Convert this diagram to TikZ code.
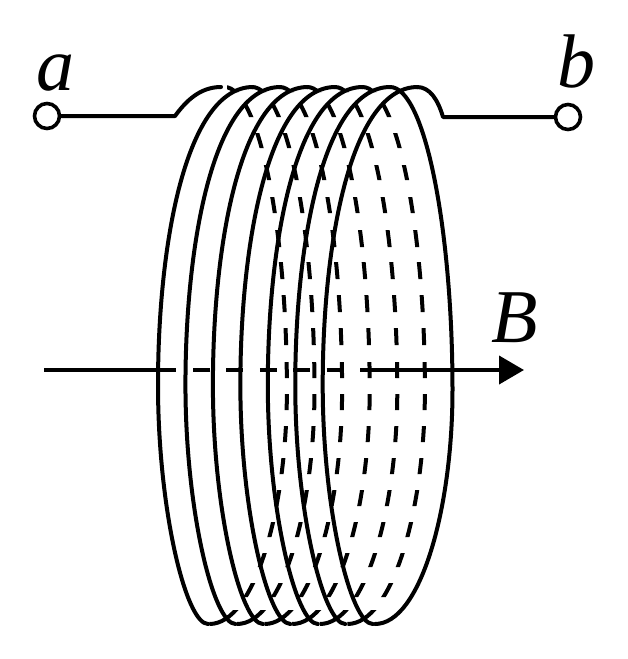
\documentclass[tikz,border=0pt]{standalone}
\usepackage{fontspec}
\setmainfont{Liberation Serif}
\usetikzlibrary{arrows.meta}
\tikzset{
  wire/.style={line width=4pt,line cap=round,line join=round},
  backwire/.style={line width=4pt,line cap=butt},
  terminal/.style={circle,draw,line width=3.6pt,fill=white,minimum size=25pt,inner sep=0pt},
  lbl/.style={inner sep=0pt,anchor=base west,font=\fontsize{76}{76}\selectfont\itshape}
}
\newcommand{\frontarc}{(208,624) .. controls (186,624) and (158,510) .. (158,385) .. controls (158,240) and (187,87) .. (253,87)}
\newcommand{\backarc}{(390,87) .. controls (425,87) and (452.5,230) .. (452.5,390) .. controls (452.5,510) and (420,624) .. (375,624)}
\begin{document}
\begin{tikzpicture}[x=1pt,y=-1pt]
\useasboundingbox (0,0) rectangle (628,659);
% hidden back arcs: the dashes stand in rows across the coil
\begin{scope}
  \clip (227,80) rectangle (628,92)
        \foreach \ya/\yb in {104/117,133/148,165/180,197/213,230/247,262/279,295/312,328/345,362/378,394/410,426/442,458/474,490/506,522/537,553/567,583/597,610/630}{
          (0,\ya) rectangle (628,\yb)};
  \foreach \k [evaluate=\k as \s using -27.6*(6-\k)] in {0,...,5}{
    \begin{scope}[xshift=\s pt]
      \draw[backwire] \backarc;
    \end{scope}
  }
\end{scope}
% visible last back arc
\draw[wire] \backarc;
% front arcs
\foreach \k [evaluate=\k as \s using 27.45*\k] in {0,...,6}{
  \begin{scope}[xshift=\s pt]
    \draw[wire] \frontarc;
  \end{scope}
}
% terminals and leads
\node[terminal] (ta) at (47,116) {};
\node[terminal] (tb) at (568,117) {};
\coordinate (la) at (175,116);
\coordinate (lb) at (443,117);
\coordinate (tipa) at (221,87);
\coordinate (tipb) at (417,87);
\draw[wire] (ta) -- (la) .. controls (186,101) and (200,87) .. (tipa);
\draw[wire] (tb) -- (lb) .. controls (438,100) and (430,87) .. (tipb);
% axis
\coordinate (ax0) at (44,370);
\coordinate (ax1) at (176,370);
\coordinate (ax2) at (193,370);
\coordinate (ax3) at (343,370);
\coordinate (ax4) at (360,370);
\coordinate (ax5) at (524,370);
\draw[line width=4pt] (ax0) -- (ax1);
\draw[line width=4pt,dash pattern=on 17pt off 16.4pt] (ax2) -- (ax3);
\draw[line width=4pt,-{Triangle[length=25pt,width=28pt]}] (ax4) -- (ax5);
% labels
\node[lbl] (na) at (36,90) {a};
\node[lbl] (nb) at (557,87) {b};
\node[lbl] (nB) at (491,342) {B};
\end{tikzpicture}
\end{document}
